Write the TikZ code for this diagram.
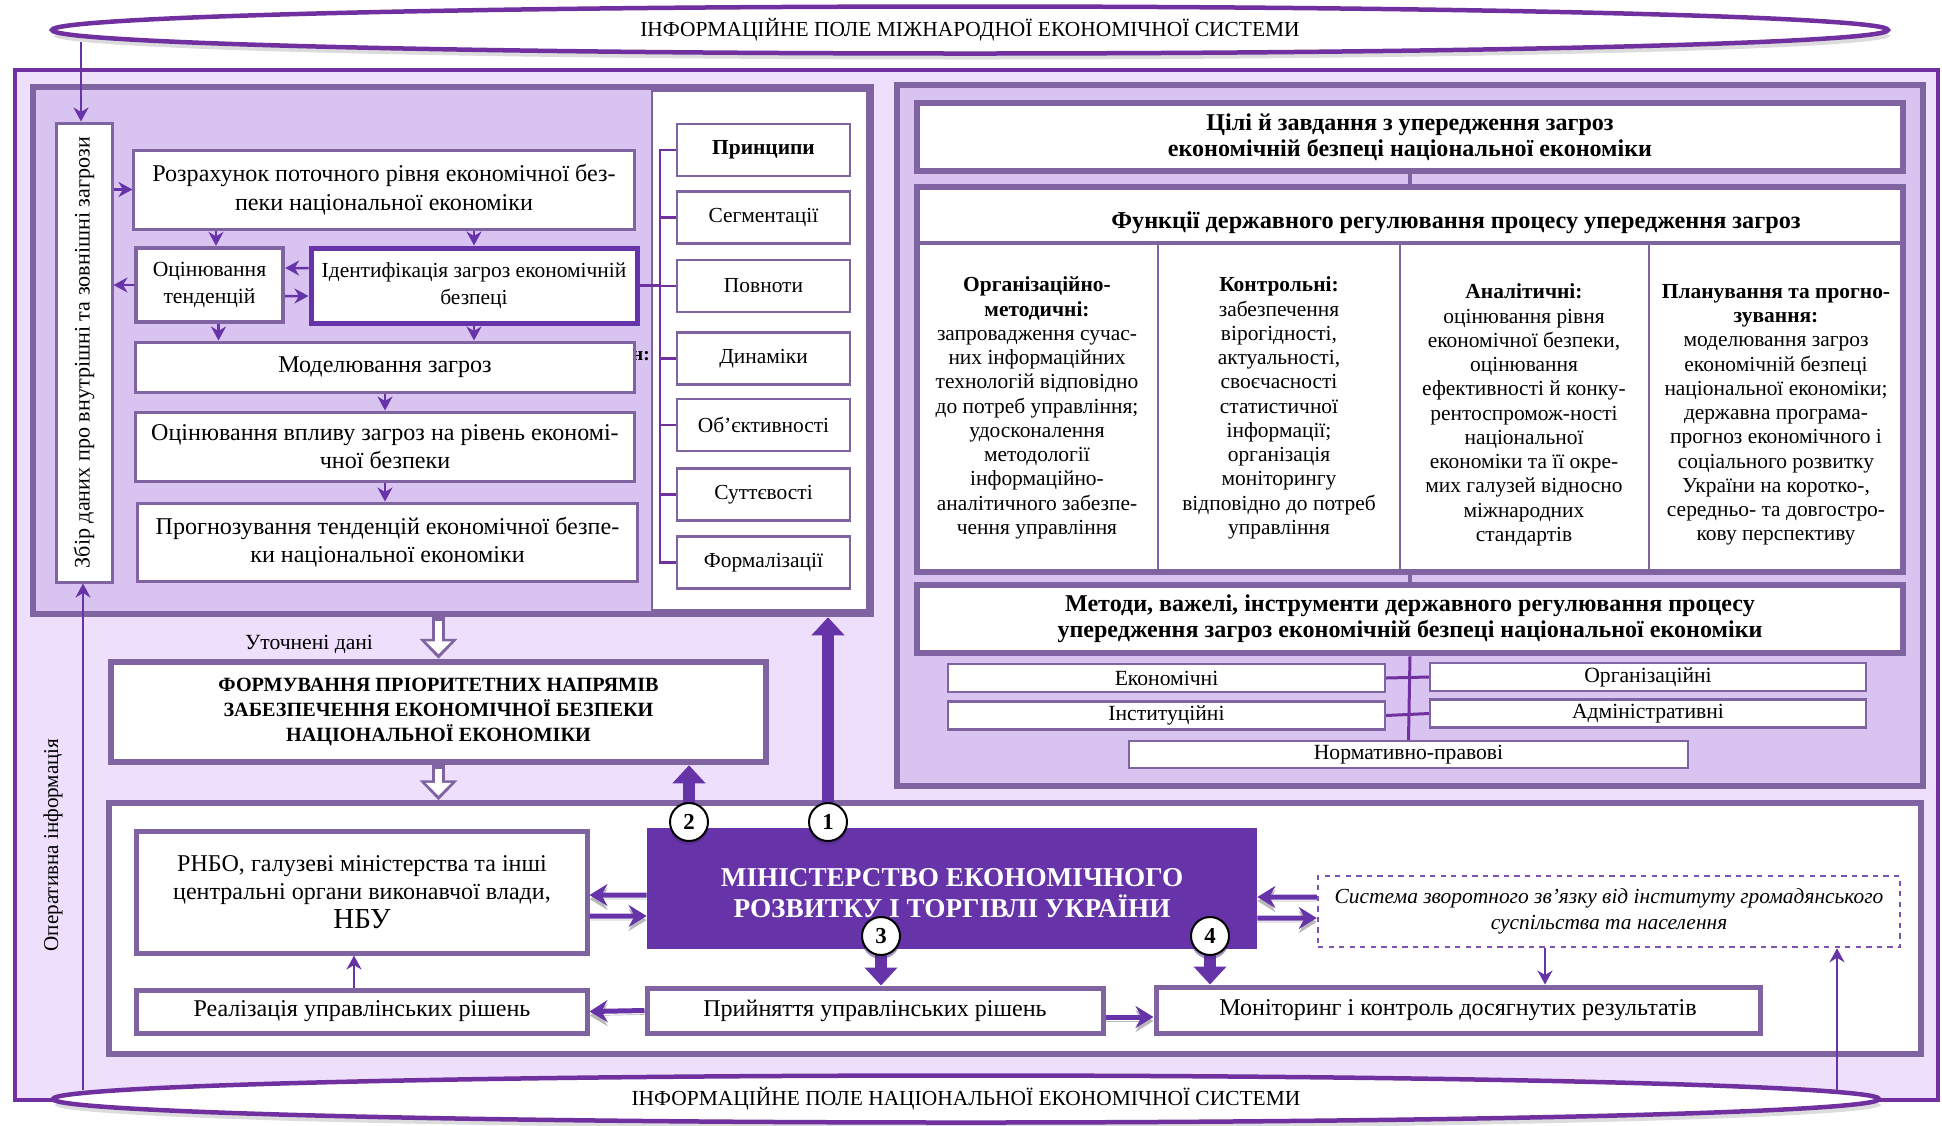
\documentclass[tikz,border=0pt]{standalone}
\usepackage{fontspec}
\setmainfont{Liberation Serif}
\usetikzlibrary{positioning}
\usetikzlibrary{shapes.geometric}
\usetikzlibrary{arrows.meta}
\usetikzlibrary{shadows}
\pgfdeclarelayer{background}
\pgfdeclarelayer{foreground}
\pgfsetlayers{background,main,foreground}
\definecolor{frame}{HTML}{8064A2}
\definecolor{deep}{HTML}{6633A8}
\definecolor{rim}{HTML}{7030A0}
\definecolor{lilac}{HTML}{EEE0FC}
\definecolor{panel}{HTML}{D9C4F1}

\begin{document}
\begin{tikzpicture}[x=0.2mm, y=-0.2mm,
						plainbox/.style={draw=frame, line width=0.6mm, fill=white, align=center, inner sep=0pt, font=\fontsize{13.7}{16.2}\selectfont},
						boldbox/.style={plainbox, line width=1.3mm, font=\bfseries\fontsize{13.7}{15}\selectfont},
						principle/.style={plainbox, line width=0.55mm, minimum width=34.6mm, minimum height=10.4mm, font=\fontsize{12.2}{14}\selectfont},
						methodbox/.style={plainbox, line width=0.45mm, minimum height=5.6mm, font=\fontsize{12.3}{14}\selectfont},
						fieldnode/.style={ellipse, draw=rim, line width=0.9mm, fill=white, inner sep=0pt, minimum height=9.4mm, font=\fontsize{12.2}{14}\selectfont, drop shadow={shadow xshift=0.4mm, shadow yshift=-1.2mm, fill=gray!55}},
						numnode/.style={circle, draw=black, line width=0.4mm, fill=white, minimum size=7.6mm, inner sep=0pt, font=\bfseries\fontsize{13}{13}\selectfont, drop shadow={shadow xshift=0pt, shadow yshift=-0.8mm, fill=deep!80!black}},
						columntext/.style={align=center, font=\fontsize{12.2}{13.8}\selectfont},
						thinarr/.style={draw=deep, line width=0.5mm, -{Stealth[length=2.8mm, width=3mm, inset=0.9mm]}},
						midarr/.style={draw=deep, line width=1mm, -{Stealth[length=3.6mm, width=4.4mm, inset=1.2mm]}, preaction={draw=gray!55, transform canvas={yshift=-0.8mm}}},
						bigarr/.style={draw=deep, line width=2.4mm, -{Triangle[length=3.6mm, width=6.4mm]}},
						hollowout/.style={draw=frame, line width=2.6mm, -{Triangle[length=4mm, width=7.4mm]}},
						hollowin/.style={draw=white, line width=1.3mm, shorten >=0.9mm, shorten <=0.7mm, -{Triangle[length=2.6mm, width=5mm]}},
						bracket/.style={draw=rim, line width=0.45mm},
						link/.style={draw=frame, line width=0.7mm},
						]
						\useasboundingbox (0,0) rectangle (1942,1125);

						\begin{pgfonlayer}{background}
						%Panels
						\node[draw=rim, line width=0.8mm, fill=lilac, inner sep=0pt, minimum width=384.6mm, minimum height=206mm] (outer) at (976.5,585) {};
						\node[fieldnode, minimum width=367.2mm] (topfield) at (970,30) {ІНФОРМАЦІЙНЕ ПОЛЕ МІЖНАРОДНОЇ ЕКОНОМІЧНОЇ СИСТЕМИ};
						\node[draw=frame, line width=1.3mm, fill=panel, inner sep=0pt, minimum width=167.6mm, minimum height=105.4mm] (lp) at (452,350.5) {};
						\node[font=\bfseries\fontsize{11}{12}\selectfont] (cut) at (641,356) {н:};
						\node[draw=frame, line width=0.4mm, fill=white, inner sep=0pt, minimum width=43mm, minimum height=103.8mm] (pc) at (759.5,350.5) {};
						\node[draw=frame, line width=1.3mm, fill=panel, inner sep=0pt, minimum width=205.2mm, minimum height=140.2mm] (rp) at (1410,435.5) {};
						\node[draw=frame, line width=1.1mm, fill=white, inner sep=0pt, minimum width=362.4mm, minimum height=50.2mm] (lw) at (1015,928.5) {};
						\node[fieldnode, minimum width=365.2mm] (botfield) at (966,1099) {ІНФОРМАЦІЙНЕ ПОЛЕ НАЦІОНАЛЬНОЇ ЕКОНОМІЧНОЇ СИСТЕМИ};
						\end{pgfonlayer}

						%Nodes
						\node[plainbox, minimum width=11.2mm, minimum height=91.8mm] (zb) at (84,352.5) {};
						\node[rotate=90, font=\fontsize{12.6}{14}\selectfont] (zbt) at (zb.center) {Збір даних про внутрішні та зовнішні загрози};
						\node[plainbox, minimum width=100mm, minimum height=15.8mm] (rz) at (384,189.5) {Розрахунок поточного рівня економічної без-\\пеки національної економіки};
						\node[plainbox, line width=0.85mm, minimum width=29.4mm, minimum height=14.8mm, font=\fontsize{12.3}{15.5}\selectfont] (ot) at (209.5,285) {Оцінювання\\тенденцій};
						\node[plainbox, draw=deep, line width=1mm, minimum width=65.2mm, minimum height=15mm, font=\fontsize{12.2}{15}\selectfont] (id) at (474,285.5) {Ідентифікація загроз економічній\\безпеці};
						\node[plainbox, minimum width=99.6mm, minimum height=10mm] (mz) at (385,367) {Моделювання загроз};
						\node[plainbox, minimum width=99.6mm, minimum height=13.8mm] (ov) at (385,446.5) {Оцінювання впливу загроз на рівень економі-\\чної безпеки};
						\node[plainbox, minimum width=99.8mm, minimum height=15.6mm] (pr) at (387.5,542) {Прогнозування тенденцій економічної безпе-\\ки національної економіки};
						\node[rotate=90, font=\fontsize{12}{14}\selectfont] (oi) at (53,845) {Оперативна інформація};

						\node[principle, font=\bfseries\fontsize{12.2}{14}\selectfont] (p0) at (763.5,150) {Принципи};
						\node[principle] (p1) at (763.5,217.5) {Сегментації};
						\node[principle] (p2) at (763.5,286) {Повноти};
						\node[principle] (p3) at (763.5,358.5) {Динаміки};
						\node[principle] (p4) at (763.5,425) {Об’єктивності};
						\node[principle] (p5) at (763.5,494.5) {Суттєвості};
						\node[principle] (p6) at (763.5,562.5) {Формалізації};
						\coordinate (br) at ([xshift=-3.2mm]p0.west);

						\node[boldbox, minimum width=197.2mm, minimum height=13.6mm] (cz) at (1410,137) {Цілі й завдання з упередження загроз\\економічній безпеці національної економіки};
						\node[boldbox, minimum width=197.2mm, minimum height=77mm] (fn) at (1410,379.5) {};
						\node[font=\bfseries\fontsize{13.8}{16}\selectfont] (fh) at (1456,223) {Функції державного регулювання процесу упередження загроз};
						\node[columntext] (fc1) at (1037,408) {\textbf{Організаційно-}\\\textbf{методичні:}\\запровадження сучас-\\них інформаційних\\технологій відповідно\\до потреб управління;\\удосконалення\\методології\\інформаційно-\\аналітичного забезпе-\\чення управління};
						\node[columntext] (fc2) at (1279,408) {\textbf{Контрольні:}\\забезпечення\\вірогідності,\\актуальності,\\своєчасності\\статистичної\\інформації;\\організація\\моніторингу\\відповідно до потреб\\управління};
						\node[columntext] (fc3) at (1524,415) {\textbf{Аналітичні:}\\оцінювання рівня\\економічної безпеки,\\оцінювання\\ефективності й конку-\\рентоспромож-ності\\національної\\економіки та її окре-\\мих галузей відносно\\міжнародних\\стандартів};
						\node[columntext] (fc4) at (1776,415) {\textbf{Планування та прогно-}\\\textbf{зування:}\\моделювання загроз\\економічній безпеці\\національної економіки;\\державна програма-\\прогноз економічного і\\соціального розвитку\\України на коротко-,\\середньо- та довгостро-\\кову перспективу};
						\node[boldbox, minimum width=197.2mm, minimum height=13.6mm, font=\bfseries\fontsize{13.7}{15}\selectfont] (mt) at (1410,619) {Методи, важелі, інструменти державного регулювання процесу\\упередження загроз економічній безпеці національної економіки};
						\node[methodbox, minimum width=87.4mm] (econ) at (1166.5,678) {Економічні};
						\node[methodbox, minimum width=87.2mm] (orgn) at (1648,677) {Організаційні};
						\node[methodbox, minimum width=87.4mm] (inst) at (1166.5,715.5) {Інституційні};
						\node[methodbox, minimum width=87.2mm] (admn) at (1648,713.5) {Адміністративні};
						\node[methodbox, minimum width=111.8mm, minimum height=5.4mm] (norm) at (1408.5,754.5) {Нормативно-правові};

						\node[font=\fontsize{12.3}{14}\selectfont] (ud) at (309,644) {Уточнені дані};
						\node[boldbox, minimum width=131mm, minimum height=20mm, font=\bfseries\fontsize{11.5}{14.2}\selectfont] (fm) at (438.5,712) {ФОРМУВАННЯ ПРІОРИТЕТНИХ НАПРЯМІВ\\ЗАБЕЗПЕЧЕННЯ ЕКОНОМІЧНОЇ БЕЗПЕКИ\\НАЦІОНАЛЬНОЇ ЕКОНОМІКИ};
						\node[fill=deep, inner sep=0pt, minimum width=122mm, minimum height=24.2mm] (mn) at (952,888.5) {};
						\node[text=white, align=center, font=\bfseries\fontsize{15.5}{17.8}\selectfont] (mnt) at (952,893) {МІНІСТЕРСТВО ЕКОНОМІЧНОГО\\РОЗВИТКУ І ТОРГІВЛІ УКРАЇНИ};
						\node[plainbox, line width=1mm, minimum width=90mm, minimum height=24.4mm] (rn) at (362,892) {РНБО, галузеві міністерства та інші\\центральні органи виконавчої влади,\\{\fontsize{16.5}{18}\selectfont НБУ}};
						\node[plainbox, line width=1mm, minimum width=90mm, minimum height=8.6mm] (rl) at (362,1011.5) {Реалізація управлінських рішень};
						\node[plainbox, line width=1mm, minimum width=91.2mm, minimum height=9mm] (pj) at (875,1010.5) {Прийняття управлінських рішень};
						\node[plainbox, line width=1mm, minimum width=120.8mm, minimum height=9.2mm] (mk) at (1458,1010) {Моніторинг і контроль досягнутих результатів};
						\node[plainbox, draw=deep!85, dashed, line width=0.5mm, minimum width=116.4mm, minimum height=14.2mm, font=\itshape\fontsize{12.2}{15}\selectfont] (sz) at (1609,911.5) {Система зворотного зв’язку від інституту громадянського\\суспільства та населення};

						\begin{pgfonlayer}{foreground}
						\node[numnode] (c2) at (689,822) {2};
						\node[numnode] (c1) at (828,822) {1};
						\node[numnode] (c3) at (881,936) {3};
						\node[numnode] (c4) at (1210,936) {4};
						\end{pgfonlayer}

						\coordinate (mi) at (81,42);
						\coordinate (oin) at (83,1090);
						\coordinate (fb) at (1837,1090);
						\coordinate (otn) at ([xshift=1.3mm]ot.north);
						\coordinate (ots) at ([xshift=1.8mm]ot.south);
						\coordinate (rlx) at ([xshift=-1.6mm]rl.north);
						\coordinate (szx) at ([xshift=-12.8mm]sz.south);

						%Lines
						\draw[thinarr] (mi) -- (mi |- zb.north);
						\draw[thinarr] (oin) -- (oin |- zb.south);
						\draw[thinarr] (zb.east |- rz.west) -- (rz.west);
						\draw[thinarr] (otn |- rz.south) -- (otn);
						\draw[thinarr] (rz.south -| id.north) -- (id.north);
						\draw[thinarr] ([yshift=3.5mm]id.west) -- ([yshift=3.4mm]ot.east);
						\draw[thinarr] ([yshift=-2.2mm]ot.east) -- ([yshift=-2.1mm]id.west);
						\draw[thinarr] (ot.west) -- (ot.west -| zb.east);
						\draw[thinarr] (ots) -- (ots |- mz.north);
						\draw[thinarr] (id.south) -- (id.south |- mz.north);
						\draw[thinarr] (mz.south -| ov.north) -- (ov.north);
						\draw[thinarr] (ov.south) -- (ov.south |- pr.north);

						\draw[bracket] (p0.west) -- (br) |- (p6.west);
						\draw[bracket] (p1.west) -- (p1.west -| br);
						\draw[bracket] (p2.west) -- (p2.west -| br);
						\draw[bracket] (p3.west) -- (p3.west -| br);
						\draw[bracket] (p4.west) -- (p4.west -| br);
						\draw[bracket] (p5.west) -- (p5.west -| br);
						\draw[bracket] (id.east) -- (id.east -| br);

						\draw[link] (cz.south) -- (fn.north);
						\draw[link] (917,243) -- (1903,243);
						\draw[link, line width=0.5mm] (1158,243) -- (1158,572);
						\draw[link, line width=0.5mm] (1400,243) -- (1400,572);
						\draw[link, line width=0.5mm] (1649,243) -- (1649,572);
						\draw[link] (fn.south) -- (mt.north);
						\draw[bracket, line width=0.6mm] (mt.south) -- (norm.north);
						\draw[bracket, line width=0.6mm] (econ.east) -- (orgn.west);
						\draw[bracket, line width=0.6mm] (inst.east) -- (admn.west);

						\draw[hollowout] (lp.south -| fm.north) -- (fm.north);
						\draw[hollowin] (lp.south -| fm.north) -- (fm.north);
						\draw[hollowout] (fm.south) -- (fm.south |- lw.north);
						\draw[hollowin] (fm.south) -- (fm.south |- lw.north);

						\draw[bigarr] (c2.center) -- (c2.center |- fm.south);
						\draw[bigarr] (c1.center) -- (c1.center |- lp.south);
						\draw[bigarr] (c3.center) -- (c3.center |- pj.north);
						\draw[bigarr] (c4.center) -- (c4.center |- mk.north);

						\draw[midarr] ([yshift=-1.3mm]mn.west) -- ([yshift=-0.6mm]rn.east);
						\draw[midarr] ([yshift=-4.8mm]rn.east) -- ([yshift=-5.5mm]mn.west);
						\draw[midarr] (pj.west) -- (rl.east);
						\draw[midarr] ([yshift=-1.3mm]pj.east) -- ([yshift=-1.4mm]mk.west);
						\draw[midarr] ([yshift=2.9mm]sz.west) -- ([yshift=-1.7mm]mn.east);
						\draw[midarr] ([yshift=-5.9mm]mn.east) -- ([yshift=-1.3mm]sz.west);

						\draw[thinarr] (rlx) -- (rlx |- rn.south);
						\draw[thinarr] (szx) -- (szx |- mk.north);
						\draw[thinarr] (fb) -- (fb |- sz.south);
					\end{tikzpicture}
\end{document}
